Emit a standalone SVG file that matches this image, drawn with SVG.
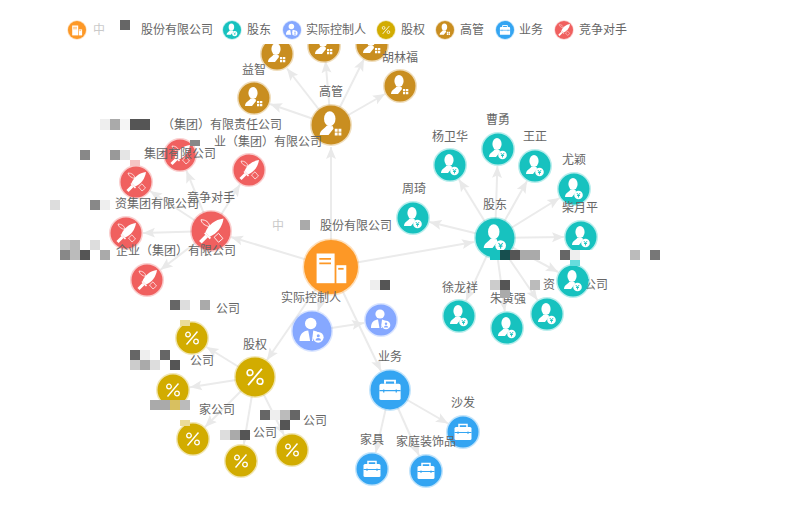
<svg xmlns="http://www.w3.org/2000/svg" width="790" height="528" viewBox="0 0 790 528">
<style>
text{font-family:"Noto Sans CJK SC","Liberation Sans",sans-serif;font-size:12px;fill:#666}
.m{text-anchor:middle}
.c{stroke-opacity:.3;stroke-width:3}
.o{fill:#fd9826;stroke:#fd9826}.t{fill:#17c2bf;stroke:#17c2bf}.v{fill:#86a8ff;stroke:#86a8ff}.g{fill:#d2ac00;stroke:#d2ac00}.b{fill:#c98e20;stroke:#c98e20}.u{fill:#34a5f2;stroke:#34a5f2}.r{fill:#f0605f;stroke:#f0605f}
#edges line{stroke:#ebebeb;stroke-width:2;marker-end:url(#ah)}
.lg{stroke-width:1.5;stroke-opacity:.3}
</style>
<defs>
<marker id="ah" markerUnits="userSpaceOnUse" markerWidth="14" markerHeight="12" refX="12" refY="6" orient="auto"><path d="M0 1L12 6L0 11L2.500 6Z" fill="#e9e9e9"/></marker>
<g id="body"><ellipse cx="-1" cy="-5" rx="4.600" ry="6" fill="#fff"/><path d="M-9 8C-9 4-5 3-3.500 0.500L1.500 1L2 3L-2 8Z" fill="#fff"/></g>
<g id="i-t"><use href="#body"/><circle cx="4.500" cy="6" r="4.300" fill="#fff"/><path d="M2.800 4L4.500 6L6.200 4M4.500 6V8.500M3 6.500H6" fill="none" stroke="#17c2bf" stroke-width=".9"/></g>
<g id="i-b"><use href="#body"/><path d="M3 3h2.300v2.300H3zM6 3h2.300v2.300H6zM3 6h2.300v2.300H3zM6 6h2.300v2.300H6z" fill="#fff"/></g>
<g id="i-v"><circle cx="-1" cy="-6" r="4.600" fill="#fff"/><path d="M-10 8C-10 2-7 0-3 -0.500L-1.500 8ZM0 8L1 -0.500C3 0 5 0.500 6 2C2 3 0 5 1 8Z" fill="#fff"/><circle cx="5" cy="5" r="4.300" fill="#fff"/><circle cx="5" cy="3.800" r="1.200" fill="#86a8ff"/><path d="M2.800 7.500C3 5 7 5 7.200 7.500Z" fill="#86a8ff"/></g>
<g id="i-r"><path d="M10 -10C3 -9 -2 -5 -4.500 1L-1 4.500C5 2 9 -3 10 -10Z" fill="#fff"/><path d="M-5 1.500L-.5 6" stroke="#fff" stroke-width="1.500"/><path d="M-3.500 4L-8.500 9" stroke="#fff" stroke-width="3"/><path d="M-8 -9C-4 -9 -1.500 -7 -1 -3.500C-4.500 -4 -7.500 -6 -8 -9ZM2.500 5L6 1.800L9.500 6L6 9Z" fill="none" stroke="#fff" stroke-width=".7"/></g>
<g id="i-g"><path d="M-5.500 6.500L5.500 -6.500" stroke="#fff" stroke-width="1.400"/><circle cx="-4" cy="-3.500" r="2.300" fill="none" stroke="#fff" stroke-width="1.300"/><circle cx="4" cy="3.500" r="2.300" fill="none" stroke="#fff" stroke-width="1.300"/></g>
<g id="i-u"><path d="M-4 -5V-7.500H4V-5" fill="none" stroke="#fff" stroke-width="1.500"/><rect x="-8.500" y="-5" width="17" height="13" rx="1.500" fill="#fff"/><path d="M-8.500 0.500H8.500" stroke="#34a5f2"/><path d="M-5 -.5V2M5 -.5V2" stroke="#34a5f2" stroke-width="1"/></g>
<g id="i-o"><rect x="-8" y="-7.500" width="10" height="16.500" fill="#fff"/><rect x="3" y="-1" width="5.500" height="10" fill="#fff"/><path d="M-6.500 -4.500H0M-6.500 -2H0" stroke="#fd9826"/><path d="M4 1H7" stroke="#fd9826"/></g>
</defs>
<g id="edges">
<line x1="331" y1="267" x2="331" y2="147"/><line x1="331" y1="267" x2="474" y2="242"/><line x1="331" y1="267" x2="231" y2="237"/><line x1="331" y1="267" x2="318" y2="311"/><line x1="331" y1="267" x2="267" y2="360"/><line x1="331" y1="267" x2="381" y2="371"/><line x1="312" y1="331" x2="364" y2="323"/>
<line x1="331" y1="125" x2="270" y2="104"/><line x1="331" y1="125" x2="287" y2="68.500"/><line x1="331" y1="125" x2="325.500" y2="61"/><line x1="331" y1="125" x2="364" y2="59"/><line x1="331" y1="125" x2="385" y2="94"/>
<line x1="495" y1="238" x2="459" y2="179.500"/><line x1="495" y1="238" x2="497.400" y2="166"/><line x1="495" y1="238" x2="527" y2="181"/><line x1="495" y1="238" x2="559.500" y2="198"/><line x1="495" y1="238" x2="564" y2="237"/><line x1="495" y1="238" x2="429.500" y2="222"/><line x1="495" y1="238" x2="558" y2="272"/><line x1="495" y1="238" x2="537.400" y2="300"/><line x1="495" y1="238" x2="504.800" y2="311"/><line x1="495" y1="238" x2="466" y2="300.600"/>
<line x1="211" y1="231" x2="186.400" y2="170.700"/><line x1="211" y1="231" x2="240" y2="184.400"/><line x1="211" y1="231" x2="150" y2="191"/><line x1="211" y1="231" x2="143" y2="233"/><line x1="211" y1="231" x2="160.500" y2="269.700"/>
<line x1="255" y1="377" x2="206.500" y2="347"/><line x1="255" y1="377" x2="190" y2="387.300"/><line x1="255" y1="377" x2="205" y2="427"/><line x1="255" y1="377" x2="243.800" y2="444"/><line x1="255" y1="377" x2="284" y2="435"/>
<line x1="390" y1="390" x2="448" y2="423.500"/><line x1="390" y1="390" x2="375.800" y2="452.400"/><line x1="390" y1="390" x2="419" y2="455.500"/>
</g>
<g id="n-center"><circle class="c o" cx="331" cy="267" r="27"/><use href="#i-o" transform="translate(331 267) scale(1.800)"/><text x="320" y="230">股份有限公司</text><text x="272" y="230" opacity=".35">中</text></g>
<g id="n-gold"><circle class="c b" cx="331" cy="125" r="19.500"/><use href="#i-b" transform="translate(331 125) scale(1.250)"/><text class="m" x="331" y="96">高管</text></g>
<g id="n-g1"><circle class="c b" cx="254" cy="98" r="15.500"/><use href="#i-b" transform="translate(254 98)"/><text class="m" x="254" y="74">益智</text></g>
<g id="n-g2"><circle class="c b" cx="277" cy="54" r="15.500"/><use href="#i-b" transform="translate(277 54)"/></g>
<g id="n-g3"><circle class="c b" cx="324" cy="46" r="15.500"/><use href="#i-b" transform="translate(324 46)"/></g>
<g id="n-g4"><circle class="c b" cx="372" cy="45" r="15.500"/><use href="#i-b" transform="translate(372 45)"/></g>
<g id="n-g5"><circle class="c b" cx="400" cy="86" r="15.500"/><use href="#i-b" transform="translate(400 86)"/><text class="m" x="400" y="62">胡林福</text></g>
<g id="n-sh"><circle class="c t" cx="495" cy="238" r="19.500"/><use href="#i-t" transform="translate(495 238) scale(1.250)"/><text class="m" x="495" y="209">股东</text></g>
<g id="n-s1"><circle class="c t" cx="450" cy="165" r="15.500"/><use href="#i-t" transform="translate(450 165)"/><text class="m" x="450" y="141">杨卫华</text></g>
<g id="n-s2"><circle class="c t" cx="498" cy="149" r="15.500"/><use href="#i-t" transform="translate(498 149)"/><text class="m" x="498" y="124">曹勇</text></g>
<g id="n-s3"><circle class="c t" cx="535" cy="166" r="15.500"/><use href="#i-t" transform="translate(535 166)"/><text class="m" x="535" y="141">王正</text></g>
<g id="n-s4"><circle class="c t" cx="574" cy="189" r="15.500"/><use href="#i-t" transform="translate(574 189)"/><text class="m" x="574" y="164">尤颖</text></g>
<g id="n-s5"><circle class="c t" cx="581" cy="237" r="15.500"/><use href="#i-t" transform="translate(581 237)"/><text class="m" x="580" y="212">柴月平</text></g>
<g id="n-s6"><circle class="c t" cx="413" cy="218" r="15.500"/><use href="#i-t" transform="translate(413 218)"/><text class="m" x="414" y="193">周琦</text></g>
<g id="n-s7"><circle class="c t" cx="547" cy="314" r="15.500"/><use href="#i-t" transform="translate(547 314)"/><text x="543" y="289">资</text><text x="584" y="289">公司</text></g>
<g id="n-s8"><circle class="c t" cx="573" cy="281" r="15.500"/><use href="#i-t" transform="translate(573 281)"/></g>
<g id="n-s9"><circle class="c t" cx="507" cy="328" r="15.500"/><use href="#i-t" transform="translate(507 328)"/><text class="m" x="508" y="303">朱黄强</text></g>
<g id="n-s10"><circle class="c t" cx="459" cy="316" r="15.500"/><use href="#i-t" transform="translate(459 316)"/><text class="m" x="460" y="292">徐龙祥</text></g>
<g id="n-cmp"><circle class="c r" cx="211" cy="231" r="19.500"/><use href="#i-r" transform="translate(211 231) scale(1.250)"/><text class="m" x="211" y="202">竞争对手</text></g>
<g id="n-r1"><circle class="c r" cx="180" cy="155" r="15.500"/><use href="#i-r" transform="translate(180 155)"/><text x="144" y="158">集团有限公司</text></g>
<g id="n-r2"><circle class="c r" cx="249" cy="170" r="15.500"/><use href="#i-r" transform="translate(249 170)"/><text x="214" y="146">业（集团）有限公司</text></g>
<g id="n-r3"><circle class="c r" cx="136" cy="182" r="15.500"/><use href="#i-r" transform="translate(136 182)"/><text x="162" y="129">（集团）有限责任公司</text></g>
<g id="n-r4"><circle class="c r" cx="126" cy="233" r="15.500"/><use href="#i-r" transform="translate(126 233)"/><text x="115" y="208">资集团有限公司</text></g>
<g id="n-r5"><circle class="c r" cx="147" cy="280" r="15.500"/><use href="#i-r" transform="translate(147 280)"/><text x="116" y="255">企业（集团）有限公司</text></g>
<g id="n-ctl"><circle class="c v" cx="312" cy="331" r="19.500"/><use href="#i-v" transform="translate(312 331) scale(1.250)"/><text class="m" x="311" y="302">实际控制人</text></g>
<g id="n-v1"><circle class="c v" cx="381" cy="320" r="15.500"/><use href="#i-v" transform="translate(381 320)"/></g>
<g id="n-eq"><circle class="c g" cx="255" cy="377" r="19.500"/><use href="#i-g" transform="translate(255 377) scale(1.250)"/><text class="m" x="255" y="349">股权</text></g>
<g id="n-e1"><circle class="c g" cx="192" cy="338" r="15.500"/><use href="#i-g" transform="translate(192 338)"/><text x="216" y="313">公司</text></g>
<g id="n-e2"><circle class="c g" cx="173" cy="390" r="15.500"/><use href="#i-g" transform="translate(173 390)"/><text x="190" y="365">公司</text></g>
<g id="n-e3"><circle class="c g" cx="193" cy="439" r="15.500"/><use href="#i-g" transform="translate(193 439)"/><text x="199" y="414">家公司</text></g>
<g id="n-e4"><circle class="c g" cx="241" cy="461" r="15.500"/><use href="#i-g" transform="translate(241 461)"/><text x="253" y="437">公司</text></g>
<g id="n-e5"><circle class="c g" cx="292" cy="450" r="15.500"/><use href="#i-g" transform="translate(292 450)"/><text x="303" y="425">公司</text></g>
<g id="n-biz"><circle class="c u" cx="390" cy="390" r="19.500"/><use href="#i-u" transform="translate(390 390) scale(1.250)"/><text class="m" x="390" y="361">业务</text></g>
<g id="n-b1"><circle class="c u" cx="463" cy="432" r="15.500"/><use href="#i-u" transform="translate(463 432)"/><text class="m" x="463" y="407">沙发</text></g>
<g id="n-b2"><circle class="c u" cx="372" cy="469" r="15.500"/><use href="#i-u" transform="translate(372 469)"/><text class="m" x="372" y="444">家具</text></g>
<g id="n-b3"><circle class="c u" cx="426" cy="471" r="15.500"/><use href="#i-u" transform="translate(426 471)"/><text class="m" x="426" y="446">家庭装饰品</text></g>
<g id="mosaic">
<rect x="100" y="119" width="10" height="11" fill="#eee"/><rect x="110" y="119" width="10" height="11" fill="#aaa"/><rect x="120" y="119" width="10" height="11" fill="#f5f5f5"/><rect x="130" y="119" width="20" height="11" fill="#555"/>
<rect x="190" y="140" width="10" height="6" fill="#888"/>
<rect x="80" y="150" width="10" height="10" fill="#888"/><rect x="110" y="150" width="10" height="10" fill="#999"/><rect x="120" y="150" width="10" height="10" fill="#e5e5e5"/><rect x="130" y="160" width="10" height="6" fill="#f6c4c4"/>
<rect x="50" y="200" width="10" height="10" fill="#ddd"/><rect x="90" y="200" width="10" height="10" fill="#888"/><rect x="100" y="200" width="10" height="10" fill="#eee"/>
<rect x="60" y="240" width="10" height="10" fill="#ccc"/><rect x="70" y="240" width="10" height="10" fill="#bbb"/><rect x="90" y="240" width="10" height="10" fill="#ddd"/><rect x="60" y="250" width="10" height="10" fill="#888"/><rect x="70" y="250" width="10" height="10" fill="#bbb"/><rect x="80" y="250" width="10" height="10" fill="#555"/><rect x="100" y="250" width="10" height="10" fill="#aaa"/>
<rect x="170" y="300" width="10" height="10" fill="#666"/><rect x="180" y="300" width="10" height="10" fill="#ddd"/><rect x="200" y="300" width="10" height="10" fill="#aaa"/><rect x="180" y="320" width="10" height="6" fill="#ebdc99"/>
<rect x="130" y="350" width="10" height="10" fill="#666"/><rect x="140" y="350" width="10" height="10" fill="#eee"/><rect x="160" y="350" width="10" height="10" fill="#666"/><rect x="130" y="360" width="10" height="10" fill="#ccc"/><rect x="140" y="360" width="10" height="10" fill="#aaa"/><rect x="150" y="360" width="10" height="10" fill="#ddd"/><rect x="170" y="360" width="10" height="10" fill="#555"/>
<rect x="150" y="400" width="20" height="10" fill="#aaa"/><rect x="170" y="400" width="10" height="10" fill="#d8c060"/><rect x="180" y="400" width="10" height="10" fill="#bbb"/><rect x="180" y="420" width="10" height="6" fill="#ebdc99"/>
<rect x="220" y="430" width="10" height="10" fill="#ddd"/><rect x="230" y="430" width="10" height="10" fill="#aaa"/><rect x="240" y="430" width="10" height="10" fill="#555"/>
<rect x="260" y="410" width="10" height="10" fill="#666"/><rect x="270" y="410" width="10" height="10" fill="#eee"/><rect x="280" y="410" width="10" height="10" fill="#bbb"/><rect x="290" y="410" width="10" height="10" fill="#666"/><rect x="280" y="420" width="10" height="10" fill="#555"/>
<rect x="370" y="280" width="10" height="10" fill="#eee"/><rect x="380" y="280" width="10" height="10" fill="#555"/>
<rect x="300" y="220" width="10" height="10" fill="#aaa"/>
<rect x="580" y="250" width="20" height="10" fill="#fff"/>
<rect x="490" y="250" width="10" height="10" fill="#17c2bf"/><rect x="500" y="250" width="10" height="10" fill="#174f4f"/><rect x="510" y="250" width="10" height="10" fill="#555"/><rect x="520" y="250" width="20" height="10" fill="#aaa"/><rect x="560" y="250" width="10" height="10" fill="#666"/><rect x="570" y="250" width="10" height="10" fill="#eee"/><rect x="630" y="250" width="10" height="10" fill="#bbb"/><rect x="650" y="250" width="10" height="10" fill="#777"/>
<rect x="570" y="260" width="10" height="6" fill="#6dd"/>
<rect x="490" y="280" width="10" height="10" fill="#ccc"/><rect x="500" y="280" width="10" height="10" fill="#555"/><rect x="530" y="280" width="10" height="10" fill="#bbb"/><rect x="500" y="290" width="10" height="8" fill="#aaa"/>
</g>
<g id="legend">
<rect x="0" y="0" width="790" height="44" fill="#fff"/>
<circle class="o lg" cx="77" cy="30" r="9"/><use href="#i-o" transform="translate(77 30) scale(.6)"/><text x="93" y="34" opacity=".35">中</text><text x="141" y="34">股份有限公司</text><rect x="120" y="20" width="10" height="10" fill="#666"/>
<circle class="t lg" cx="232" cy="30" r="9"/><use href="#i-t" transform="translate(232 30) scale(.6)"/><text x="247" y="34">股东</text>
<circle class="v lg" cx="292" cy="30" r="9"/><use href="#i-v" transform="translate(292 30) scale(.6)"/><text x="306" y="34">实际控制人</text>
<circle class="g lg" cx="386" cy="30" r="9"/><use href="#i-g" transform="translate(386 30) scale(.6)"/><text x="401" y="34">股权</text>
<circle class="b lg" cx="445" cy="30" r="9"/><use href="#i-b" transform="translate(445 30) scale(.6)"/><text x="460" y="34">高管</text>
<circle class="u lg" cx="505" cy="30" r="9"/><use href="#i-u" transform="translate(505 30) scale(.6)"/><text x="519" y="34">业务</text>
<circle class="r lg" cx="564" cy="30" r="9"/><use href="#i-r" transform="translate(564 30) scale(.6)"/><text x="579" y="34">竞争对手</text>
</g>
</svg>
